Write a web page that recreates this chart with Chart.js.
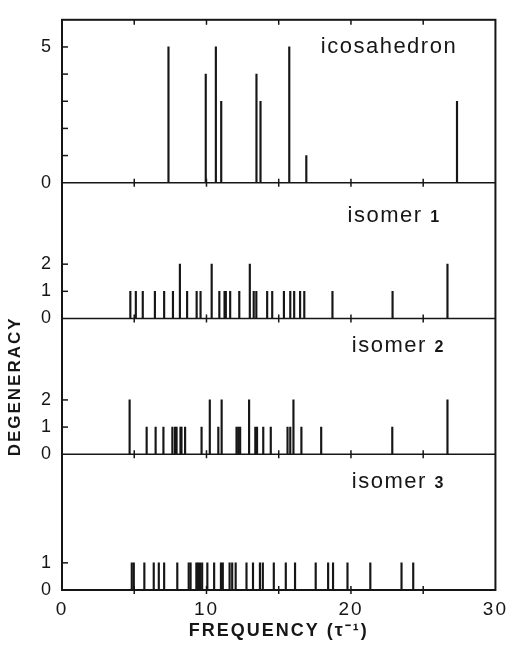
<!DOCTYPE html>
<html>
<head>
<meta charset="utf-8">
<script src="https://cdn.jsdelivr.net/npm/chart.js@4"></script>
<style>
  html, body { margin: 0; padding: 0; background: #fff; }
  #wrap { width: 514px; height: 650px; }
</style>
</head>
<body>
<div id="wrap"><canvas id="c"></canvas></div>
<script>
// vibrational frequencies (tau^-1) and their degeneracies
const icoFreq = [7.37, 9.95, 10.65, 11.02, 13.46, 13.74, 15.73, 16.91, 27.34];
const icoDeg  = [5, 4, 5, 3, 4, 3, 5, 1, 3];

const iso1Freq = [4.73, 5.11, 5.59, 6.43, 7.07, 7.68, 8.16, 8.66, 9.32, 9.59,
                  10.36, 10.89, 11.25, 11.34, 11.64, 12.27, 13.0, 13.27, 13.45,
                  14.2, 14.55, 15.36, 15.8, 16.07, 16.48, 16.77, 18.72, 22.88, 26.68];
const iso1Deg  = [1, 1, 1, 1, 1, 1, 2, 1, 1, 1,
                  2, 1, 1, 1, 1, 1, 2, 1, 1,
                  1, 1, 1, 1, 1, 1, 1, 1, 1, 2];

const iso2Freq = [4.68, 5.86, 6.48, 7.02, 7.64, 7.82, 7.93, 8.2, 8.27, 8.52,
                  9.66, 10.23, 10.82, 11.05, 12.08, 12.2, 12.33, 12.95, 13.38, 13.5,
                  13.93, 14.45, 15.61, 15.8, 16.02, 16.57, 17.94, 22.86, 26.68];
const iso2Deg  = [2, 1, 1, 1, 1, 1, 1, 1, 1, 1,
                  1, 2, 1, 2, 1, 1, 1, 2, 1, 1,
                  1, 1, 1, 1, 2, 1, 1, 1, 2];

const iso3Freq = [4.83, 4.97, 5.7, 6.35, 6.7, 7.07, 7.98, 8.77, 8.9, 9.3,
                  9.42, 9.55, 9.7, 10.06, 10.53, 11.0, 11.13, 11.6, 11.78, 12.02,
                  12.77, 13.22, 13.7, 13.9, 14.66, 15.49, 16.13, 17.56, 18.42, 18.76,
                  19.76, 21.34, 23.5, 24.31];
const iso3Deg  = iso3Freq.map(() => 1);

const xTickVals = [5, 10, 15, 20, 25];
const xLabelVals = [0, 10, 20, 30];

const ink = '#161616';
const fontFamily = '"Liberation Sans", Arial, sans-serif';

const panels = [
  { id: 'y1', name: 'icosahedron', num: '',  freq: icoFreq,  deg: icoDeg,  max: 6, labels: [0, 5],    marks: [1, 2, 3, 4, 5], tx: 27.35, ty: 4.77 },
  { id: 'y2', name: 'isomer',      num: '1', freq: iso1Freq, deg: iso1Deg, max: 5, labels: [0, 1, 2], marks: [1, 2], tx: 26.2, ty: 3.54 },
  { id: 'y3', name: 'isomer',      num: '2', freq: iso2Freq, deg: iso2Deg, max: 5, labels: [0, 1, 2], marks: [1, 2], tx: 26.5, ty: 3.76 },
  { id: 'y4', name: 'isomer',      num: '3', freq: iso3Freq, deg: iso3Deg, max: 5, labels: [0, 1],    marks: [1], tx: 26.5, ty: 3.76 },
];

function panelAxis(p) {
  const axis = {
    type: 'linear',
    position: 'left',
    stack: 'panels',
    stackWeight: p.max,
    min: 0,
    max: p.max,
    grid: { display: false, drawTicks: false },
    border: { display: true, color: ink, width: 2 },
    ticks: {
      stepSize: 1,
      autoSkip: false,
      padding: 9,
      color: ink,
      font: { family: fontFamily, size: 18 },
      callback: v => p.labels.includes(v) ? String(v) : ''
    },
    afterFit: s => { s.width = 62; }
  };
  if (p.id === 'y3') {
    axis.title = {
      display: true,
      text: 'DEGENERACY',
      color: ink,
      font: { family: fontFamily, size: 17, weight: 'bold' },
      padding: { top: 5, bottom: 0 }
    };
  }
  return axis;
}

const scales = {
  x: {
    type: 'linear',
    min: 0,
    max: 30,
    offset: false,
    grid: { display: false, drawTicks: false, offset: false },
    border: { display: false },
    ticks: {
      stepSize: 5,
      autoSkip: false,
      maxRotation: 0,
      padding: 8,
      color: ink,
      font: { family: fontFamily, size: 19 },
      callback: v => xLabelVals.includes(v) ? String(v) : ''
    },
    title: {
      display: true,
      text: 'FREQUENCY (τ⁻¹)',
      color: ink,
      font: { family: fontFamily, size: 18, weight: 'bold' },
      padding: { top: 0, bottom: 8 }
    },
    afterFit: s => { s.height = 60; }
  }
};
// bottom panel first: stacked left axes are placed from the last one downwards
[...panels].reverse().forEach(p => { scales[p.id] = panelAxis(p); });

const datasets = panels.map(p => ({
  label: p.name + ' ' + p.num,
  yAxisID: p.id,
  data: p.freq.map((f, i) => ({ x: f, y: p.deg[i] })),
  backgroundColor: ink,
  borderWidth: 0,
  barThickness: 1.5,
  grouped: false
}));

const framePlugin = {
  id: 'frame',
  beforeDraw(chart) {
    chart.ctx.letterSpacing = '2px';
  },
  afterDatasetsDraw(chart) {
    const { ctx, chartArea: a, scales: sc } = chart;
    const xs = sc.x;
    const seg = (x1, y1, x2, y2) => { ctx.beginPath(); ctx.moveTo(x1, y1); ctx.lineTo(x2, y2); ctx.stroke(); };
    ctx.save();
    ctx.strokeStyle = ink;
    ctx.lineWidth = 2;
    ctx.strokeRect(a.left, a.top, a.right - a.left, a.bottom - a.top);
    ctx.lineWidth = 1.5;
    xTickVals.forEach(v => {
      const px = xs.getPixelForValue(v);
      seg(px, a.top, px, a.top + 5);
    });
    panels.forEach(p => {
      const ys = sc[p.id];
      const y0 = ys.getPixelForValue(0);
      seg(a.left, y0, a.right, y0);
      xTickVals.forEach(v => {
        const px = xs.getPixelForValue(v);
        seg(px, y0 - 4, px, y0 + 4);
      });
      p.marks.forEach(v => {
        const py = ys.getPixelForValue(v);
        seg(a.left, py, a.left + 6, py);
      });
      // panel caption
      const rx = xs.getPixelForValue(p.tx);
      const by = ys.getPixelForValue(p.ty);
      ctx.fillStyle = ink;
      ctx.textBaseline = 'alphabetic';
      ctx.textAlign = 'left';
      ctx.letterSpacing = '1.5px';
      const nameFont = `22px ${fontFamily}`;
      const numFont = `bold 16px ${fontFamily}`;
      ctx.font = nameFont;
      const nameText = p.num ? p.name + ' ' : p.name;
      const wName = ctx.measureText(nameText).width;
      ctx.font = numFont;
      const wNum = p.num ? ctx.measureText(p.num).width : 0;
      const startX = rx - wName - wNum;
      ctx.font = nameFont;
      ctx.fillText(nameText, startX, by);
      if (p.num) {
        ctx.font = numFont;
        ctx.fillText(p.num, startX + wName, by);
      }
    });
    ctx.restore();
  }
};

new Chart(document.getElementById('c'), {
  type: 'bar',
  data: { datasets },
  options: {
    responsive: true,
    maintainAspectRatio: false,
    animation: false,
    layout: { padding: { top: 13, right: 17, left: 0, bottom: 0 } },
    plugins: {
      legend: { display: false },
      tooltip: { enabled: false }
    },
    scales
  },
  plugins: [framePlugin]
});
</script>
</body>
</html>
